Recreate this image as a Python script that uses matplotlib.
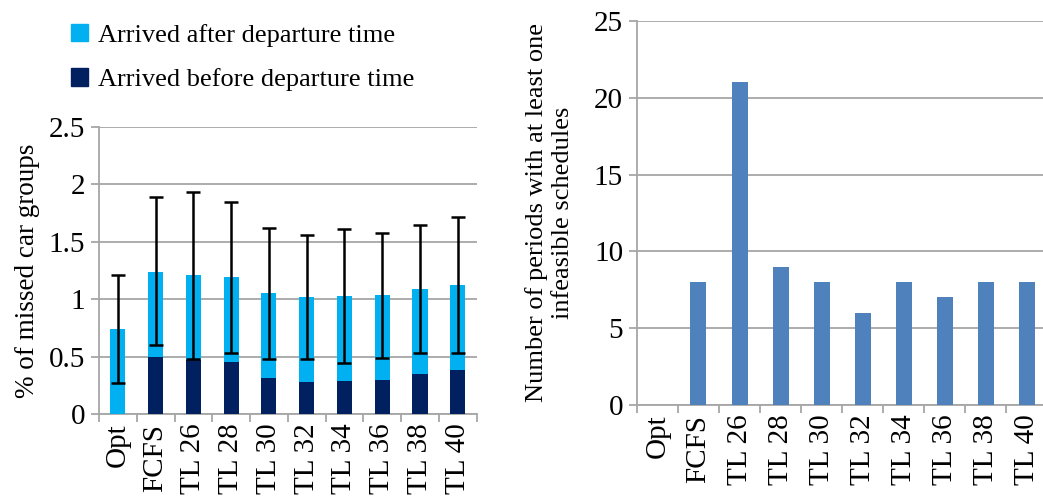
import matplotlib
matplotlib.use("Agg")
import matplotlib.pyplot as plt
from matplotlib.patches import Patch
from matplotlib.ticker import MultipleLocator, FixedLocator, NullFormatter, FuncFormatter
import numpy as np

plt.rcParams['font.family'] = ['Liberation Serif', 'DejaVu Serif']

categories = ["Opt", "FCFS", "TL 26", "TL 28", "TL 30", "TL 32", "TL 34", "TL 36", "TL 38", "TL 40"]
before = [0.0, 0.50, 0.47, 0.45, 0.31, 0.28, 0.29, 0.30, 0.35, 0.38]
total = [0.74, 1.24, 1.21, 1.19, 1.05, 1.02, 1.03, 1.04, 1.09, 1.12]
err_low = [0.27, 0.60, 0.48, 0.53, 0.48, 0.48, 0.44, 0.49, 0.53, 0.53]
err_high = [1.21, 1.89, 1.93, 1.85, 1.62, 1.56, 1.61, 1.58, 1.65, 1.72]
infeasible = [0, 8, 21, 9, 8, 6, 8, 7, 8, 8]

light = "#00B0F0"
navy = "#002060"
steel = "#4F81BD"
gridc = "#A6A6A6"

fig = plt.figure(figsize=(10.43, 4.98), dpi=100)
ax1 = fig.add_axes([0.0949, 0.1687, 0.3621, 0.5763])
ax2 = fig.add_axes([0.6107, 0.1867, 0.3933, 0.7713])

x = np.arange(len(categories))
after = [t - b for t, b in zip(total, before)]
ax1.bar(x, before, width=0.4, color=navy, zorder=3)
ax1.bar(x, after, bottom=before, width=0.4, color=light, zorder=3)
yerr = [[t - l for t, l in zip(total, err_low)], [h - t for t, h in zip(total, err_high)]]
ax1.errorbar(x, total, yerr=yerr, fmt='none', ecolor='black', elinewidth=1.8, capsize=5, capthick=1.8, zorder=4)

ax2.bar(x, infeasible, width=0.39, color=steel, zorder=3)

FS = 21

def style(ax, ymax, step):
    ax.set_xlim(-0.5, len(categories) - 0.5)
    ax.set_ylim(0, ymax)
    ax.yaxis.set_major_locator(MultipleLocator(step))
    ax.yaxis.set_major_formatter(FuncFormatter(lambda v, p: "%g" % round(v, 6)))
    ax.yaxis.grid(True, color=gridc, linewidth=1.3, zorder=0)
    ax.set_axisbelow(True)
    for s in ['top', 'right']:
        ax.spines[s].set_visible(False)
    for s in ['left', 'bottom']:
        ax.spines[s].set_color(gridc)
        ax.spines[s].set_linewidth(1.3)
    ax.set_xticks(x)
    ax.set_xticklabels(categories, rotation=90, fontsize=FS)
    ax.tick_params(axis='x', which='major', length=0, pad=7)
    ax.xaxis.set_minor_locator(FixedLocator(np.arange(-0.5, len(categories), 1.0)))
    ax.xaxis.set_minor_formatter(NullFormatter())
    ax.tick_params(axis='x', which='minor', length=6, width=1.3, color=gridc, direction='out')
    ax.tick_params(axis='y', length=6, width=1.3, color=gridc, labelsize=FS, pad=4)

style(ax1, 2.5, 0.5)
style(ax2, 25, 5)

ax1.set_ylabel("% of missed car groups", fontsize=19.5, labelpad=6)
ax2.set_ylabel("Number of periods with at least one\ninfeasible schedules", fontsize=19, labelpad=14, linespacing=1.25)

handles = [Patch(color=light, label="Arrived after departure time"),
           Patch(color=navy, label="Arrived before departure time")]
fig.legend(handles=handles, loc='upper left', bbox_to_anchor=(0.045, 1.0), frameon=False,
           fontsize=19, handlelength=0.65, handleheight=0.65, handletextpad=0.4, labelspacing=0.8)

fig.savefig("out.png", dpi=100)
